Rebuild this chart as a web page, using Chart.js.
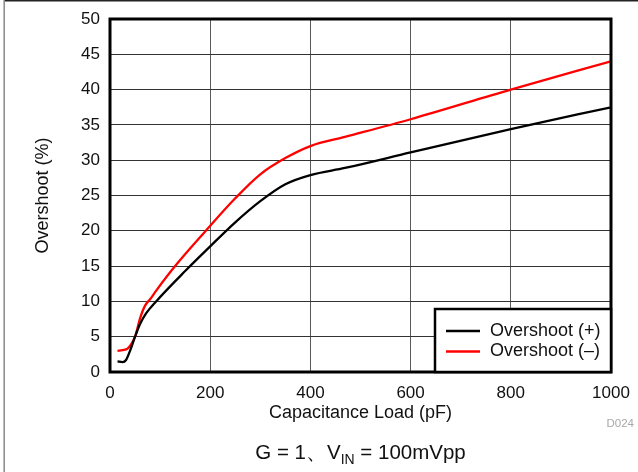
<!DOCTYPE html>
<html>
<head>
<meta charset="utf-8">
<script src="https://cdn.jsdelivr.net/npm/chart.js@4.4.1/dist/chart.umd.min.js"></script>
<style>
  html, body { margin: 0; padding: 0; background: #fff; }
  #wrap { width: 638px; height: 472px; position: relative; }
</style>
</head>
<body>
<div id="wrap"><canvas id="myChart" width="638" height="472"></canvas></div>
<script>
// capacitance load (pF) and overshoot (%)
const capPlus = [15, 25, 32, 40, 50, 60, 72, 92, 150, 200, 250, 300, 350, 400, 469, 600, 800, 1000];
const overshootPlus = [1.5, 1.4, 1.7, 3.0, 5.0, 6.8, 8.3, 10.0, 14.3, 17.8, 21.2, 24.2, 26.6, 27.9, 28.9, 31.1, 34.4, 37.5];

const capMinus = [15, 25, 35, 42, 50, 60, 70, 80, 93, 130, 190, 250, 300, 350, 400, 469, 600, 800, 1000];
const overshootMinus = [3.0, 3.1, 3.3, 3.9, 5.0, 7.6, 9.4, 10.3, 11.6, 15.0, 19.9, 24.6, 28.0, 30.3, 32.0, 33.3, 35.8, 40.0, 44.0];

const seriesLabels = ['Overshoot (+)', 'Overshoot (\u2013)'];
const seriesColors = ['#000000', '#ff0000'];

const xTitle = 'Capacitance Load (pF)';
const yTitle = 'Overshoot (%)';
const noteMain = 'G = 1\u3001V';
const noteSub = 'IN';
const noteTail = ' = 100mVpp';
const figId = 'D024';

const FONT = '"Liberation Sans", Arial, sans-serif';

function toPoints(xs, ys) {
  return xs.map(function (x, i) { return {x: x, y: ys[i]}; });
}

// frame, legend box, bottom note and figure id
const extras = {
  id: 'extras',
  afterDatasetsDraw: function (chart) {
    const ctx = chart.ctx;
    const a = chart.chartArea;
    ctx.save();
    // thick plot frame
    ctx.strokeStyle = '#000';
    ctx.lineWidth = 3;
    ctx.strokeRect(a.left, a.top, a.right - a.left, a.bottom - a.top);

    // legend box in lower right
    const bw = 176, bh = 63;
    const bx = a.right - bw, by = a.bottom - bh;
    ctx.fillStyle = '#fff';
    ctx.fillRect(bx, by, bw, bh);
    ctx.lineWidth = 2.5;
    ctx.strokeRect(bx, by, bw, bh);
    ctx.font = '18px ' + FONT;
    ctx.textBaseline = 'middle';
    ctx.textAlign = 'left';
    chart.data.datasets.forEach(function (ds, i) {
      const yy = by + 22 + i * 20.5;
      ctx.strokeStyle = ds.borderColor;
      ctx.lineWidth = 2.5;
      ctx.beginPath();
      ctx.moveTo(bx + 11, yy);
      ctx.lineTo(bx + 45, yy);
      ctx.stroke();
      ctx.fillStyle = '#111';
      ctx.fillText(ds.label, bx + 55, yy);
    });
    ctx.restore();
  },
  afterDraw: function (chart) {
    const ctx = chart.ctx;
    const a = chart.chartArea;
    ctx.save();
    // outer figure border (top and left)
    ctx.strokeStyle = '#222';
    ctx.lineWidth = 1.5;
    ctx.beginPath();
    ctx.moveTo(4, 0.75);
    ctx.lineTo(638, 0.75);
    ctx.stroke();
    ctx.strokeStyle = '#888';
    ctx.beginPath();
    ctx.moveTo(4.2, 0);
    ctx.lineTo(4.2, 472);
    ctx.stroke();

    // note with subscript
    ctx.fillStyle = '#111';
    ctx.textBaseline = 'alphabetic';
    ctx.textAlign = 'left';
    const mainFont = '20.5px ' + FONT;
    const subFont = '14px ' + FONT;
    ctx.font = mainFont;
    const w1 = ctx.measureText(noteMain).width;
    const w3 = ctx.measureText(noteTail).width;
    ctx.font = subFont;
    const w2 = ctx.measureText(noteSub).width;
    let x = (a.left + a.right) / 2 - (w1 + w2 + w3) / 2;
    const base = 459;
    ctx.font = mainFont;
    ctx.fillText(noteMain, x, base);
    x += w1;
    ctx.font = subFont;
    ctx.fillText(noteSub, x, base + 5);
    x += w2;
    ctx.font = mainFont;
    ctx.fillText(noteTail, x, base);

    // figure id
    ctx.fillStyle = '#a8a8a8';
    ctx.font = '11.5px ' + FONT;
    ctx.textAlign = 'right';
    ctx.fillText(figId, 634, 427);
    ctx.restore();
  }
};

const data = {
  datasets: [{
    label: seriesLabels[0],
    data: toPoints(capPlus, overshootPlus),
    borderColor: seriesColors[0],
    backgroundColor: seriesColors[0],
    borderWidth: 2.3,
    pointRadius: 0,
    cubicInterpolationMode: 'monotone',
    fill: false
  }, {
    label: seriesLabels[1],
    data: toPoints(capMinus, overshootMinus),
    borderColor: seriesColors[1],
    backgroundColor: seriesColors[1],
    borderWidth: 2.3,
    pointRadius: 0,
    cubicInterpolationMode: 'monotone',
    fill: false
  }]
};

const config = {
  type: 'line',
  data: data,
  plugins: [extras],
  options: {
    responsive: false,
    animation: false,
    events: [],
    layout: { padding: { left: 0, top: 19, right: 27, bottom: 0 } },
    scales: {
      x: {
        type: 'linear',
        min: 0,
        max: 1000,
        afterFit: function (scale) {
          scale.height = 100;
          scale.paddingLeft = 0;
          scale.paddingRight = 0;
        },
        ticks: {
          stepSize: 200,
          padding: 11,
          color: '#111',
          font: { family: FONT, size: 17 },
          maxRotation: 0,
          callback: function (value) { return String(value); }
        },
        grid: { color: '#5a5a5a', lineWidth: 1, drawTicks: false },
        border: { display: false },
        title: {
          display: true,
          text: xTitle,
          color: '#111',
          font: { family: FONT, size: 18 },
          padding: { top: 0, bottom: 48 }
        }
      },
      y: {
        type: 'linear',
        min: 0,
        max: 50,
        afterFit: function (scale) {
          scale.width = 110;
          scale.paddingTop = 0;
          scale.paddingBottom = 0;
        },
        ticks: {
          stepSize: 5,
          padding: 10,
          color: '#111',
          font: { family: FONT, size: 17 }
        },
        grid: { color: '#333', lineWidth: 1, drawTicks: false },
        border: { display: false },
        title: {
          display: true,
          text: yTitle,
          color: '#111',
          font: { family: FONT, size: 18 },
          padding: { top: 32, bottom: 0 }
        }
      }
    },
    plugins: {
      legend: { display: false },
      tooltip: { enabled: false }
    }
  }
};

const myChart = new Chart(document.getElementById('myChart'), config);
</script>
</body>
</html>
